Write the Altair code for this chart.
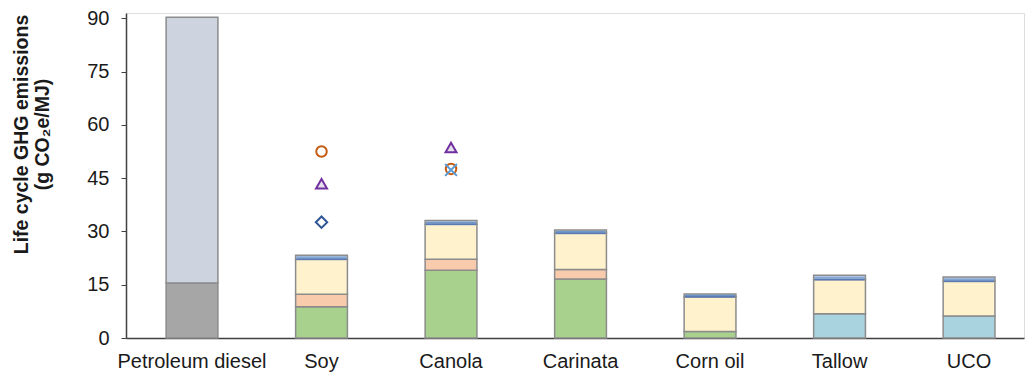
import altair as alt
import pandas as pd

categories = ["Petroleum diesel", "Soy", "Canola", "Carinata", "Corn oil", "Tallow", "UCO"]

# segment heights (g CO2e/MJ), bottom to top
petro_upstream = [15.5, 0, 0, 0, 0, 0, 0]
petro_combustion = [74.8, 0, 0, 0, 0, 0, 0]
feedstock = [0, 8.8, 19.1, 16.6, 1.8, 0, 0]
rendering = [0, 0, 0, 0, 0, 6.8, 6.2]
oil_extraction = [0, 3.5, 3.1, 2.7, 0, 0, 0]
fuel_production = [0, 9.9, 9.8, 10.2, 9.8, 9.7, 9.8]
transport = [0, 1.1, 1.1, 0.9, 0.8, 1.2, 1.2]

components = ["Petroleum upstream", "Petroleum combustion", "Feedstock",
              "Rendering", "Oil extraction", "Fuel production", "Transport"]
comp_values = [petro_upstream, petro_combustion, feedstock, rendering,
               oil_extraction, fuel_production, transport]
comp_colors = ["#A6A6A6", "#CDD3DF", "#A9D18E", "#A9D3DE", "#F8CBAD", "#FFF2CC", "#C5D6EE"]

marker_cats = ["Soy", "Soy", "Soy", "Canola", "Canola", "Canola"]
marker_vals = [52.5, 43.4, 32.6, 53.6, 47.6, 47.3]
marker_types = ["Circle", "Triangle", "Diamond", "Triangle", "Circle", "Cross"]

rows = []
trans_rows = []
for ci, cat in enumerate(categories):
    base = 0.0
    for comp, vals in zip(components, comp_values):
        v = vals[ci]
        if v > 0:
            rows.append({"category": cat, "component": comp, "start": base, "end": base + v})
            if comp == "Transport":
                trans_rows.append({"category": cat, "low": base, "mid": base + v / 2})
            base += v
bars_df = pd.DataFrame(rows)
trans_df = pd.DataFrame(trans_rows)
markers_df = pd.DataFrame({"category": marker_cats, "value": marker_vals, "type": marker_types})

FONT = "Liberation Sans"

xscale = alt.Scale(domain=categories, paddingInner=0.6, paddingOuter=0.267, align=0.58)
yscale = alt.Scale(domain=[0, 91.5], nice=False)

x_enc = alt.X("category:N", scale=xscale, sort=categories,
              axis=alt.Axis(title=None, labelAngle=0, ticks=False, labelPadding=13,
                            labelFontSize=20, labelFont=FONT, labelColor="#1a1a1a",
                            domainColor="#404040", domainWidth=1.5))

bars = alt.Chart(bars_df).mark_bar(stroke="#8C8C8C", strokeWidth=1.5).encode(
    x=x_enc,
    y=alt.Y("start:Q", scale=yscale,
            axis=alt.Axis(values=[0, 15, 30, 45, 60, 75, 90], grid=False,
                          title=["Life cycle GHG emissions", "(g CO\u2082e/MJ)"],
                          titleFont=FONT, titleFontSize=19.5, titleFontWeight="bold",
                          titleColor="#1a1a1a", titleAlign="center", titleBaseline="top",
                          titleX=-114, titleY=121, titleLineHeight=21,
                          labelFontSize=20, labelFont=FONT, labelColor="#1a1a1a",
                          tickSize=5, labelPadding=12, tickColor="#404040",
                          domainColor="#404040", domainWidth=1.5)),
    y2="end:Q",
    color=alt.Color("component:N", scale=alt.Scale(domain=components, range=comp_colors), legend=None),
)

trans_line = alt.Chart(trans_df).mark_tick(color="#4472C4", thickness=2, size=50).encode(
    x=alt.X("category:N", scale=xscale, sort=categories),
    y=alt.Y("low:Q", scale=yscale),
)
trans_dash = alt.Chart(trans_df).mark_tick(color="#4A7EBB", thickness=1.2, size=50,
                                           strokeDash=[5, 3]).encode(
    x=alt.X("category:N", scale=xscale, sort=categories),
    y=alt.Y("mid:Q", scale=yscale),
)

types = ["Circle", "Triangle", "Diamond", "Cross"]
points = alt.Chart(markers_df).mark_point(filled=False, strokeWidth=2, opacity=1).encode(
    x=alt.X("category:N", scale=xscale, sort=categories),
    y=alt.Y("value:Q", scale=yscale),
    shape=alt.Shape("type:N", scale=alt.Scale(domain=types,
                    range=["circle", "triangle-up", "diamond", "M-1,-1L1,1M-1,1L1,-1"]), legend=None),
    stroke=alt.Stroke("type:N", scale=alt.Scale(domain=types,
                      range=["#C55A11", "#7030A0", "#2F5597", "#5B9BD5"]), legend=None),
    fill=alt.Fill("type:N", scale=alt.Scale(domain=types,
                  range=["#FFFFFF", "#E6E0EC", "#FFFFFF", "#FFFFFF"]), legend=None),
    size=alt.Size("type:N", scale=alt.Scale(domain=types, range=[110, 140, 110, 50]), legend=None),
)

chart = alt.layer(bars, trans_line, trans_dash, points).properties(
    width=898, height=325,
    autosize=alt.AutoSizeParams(type="none"),
    padding={"left": 126, "top": 13, "right": 1, "bottom": 38},
).configure_view(stroke=None).configure(background="white")

chart.save("out.html", embed_options={"renderer": "svg", "actions": False})
